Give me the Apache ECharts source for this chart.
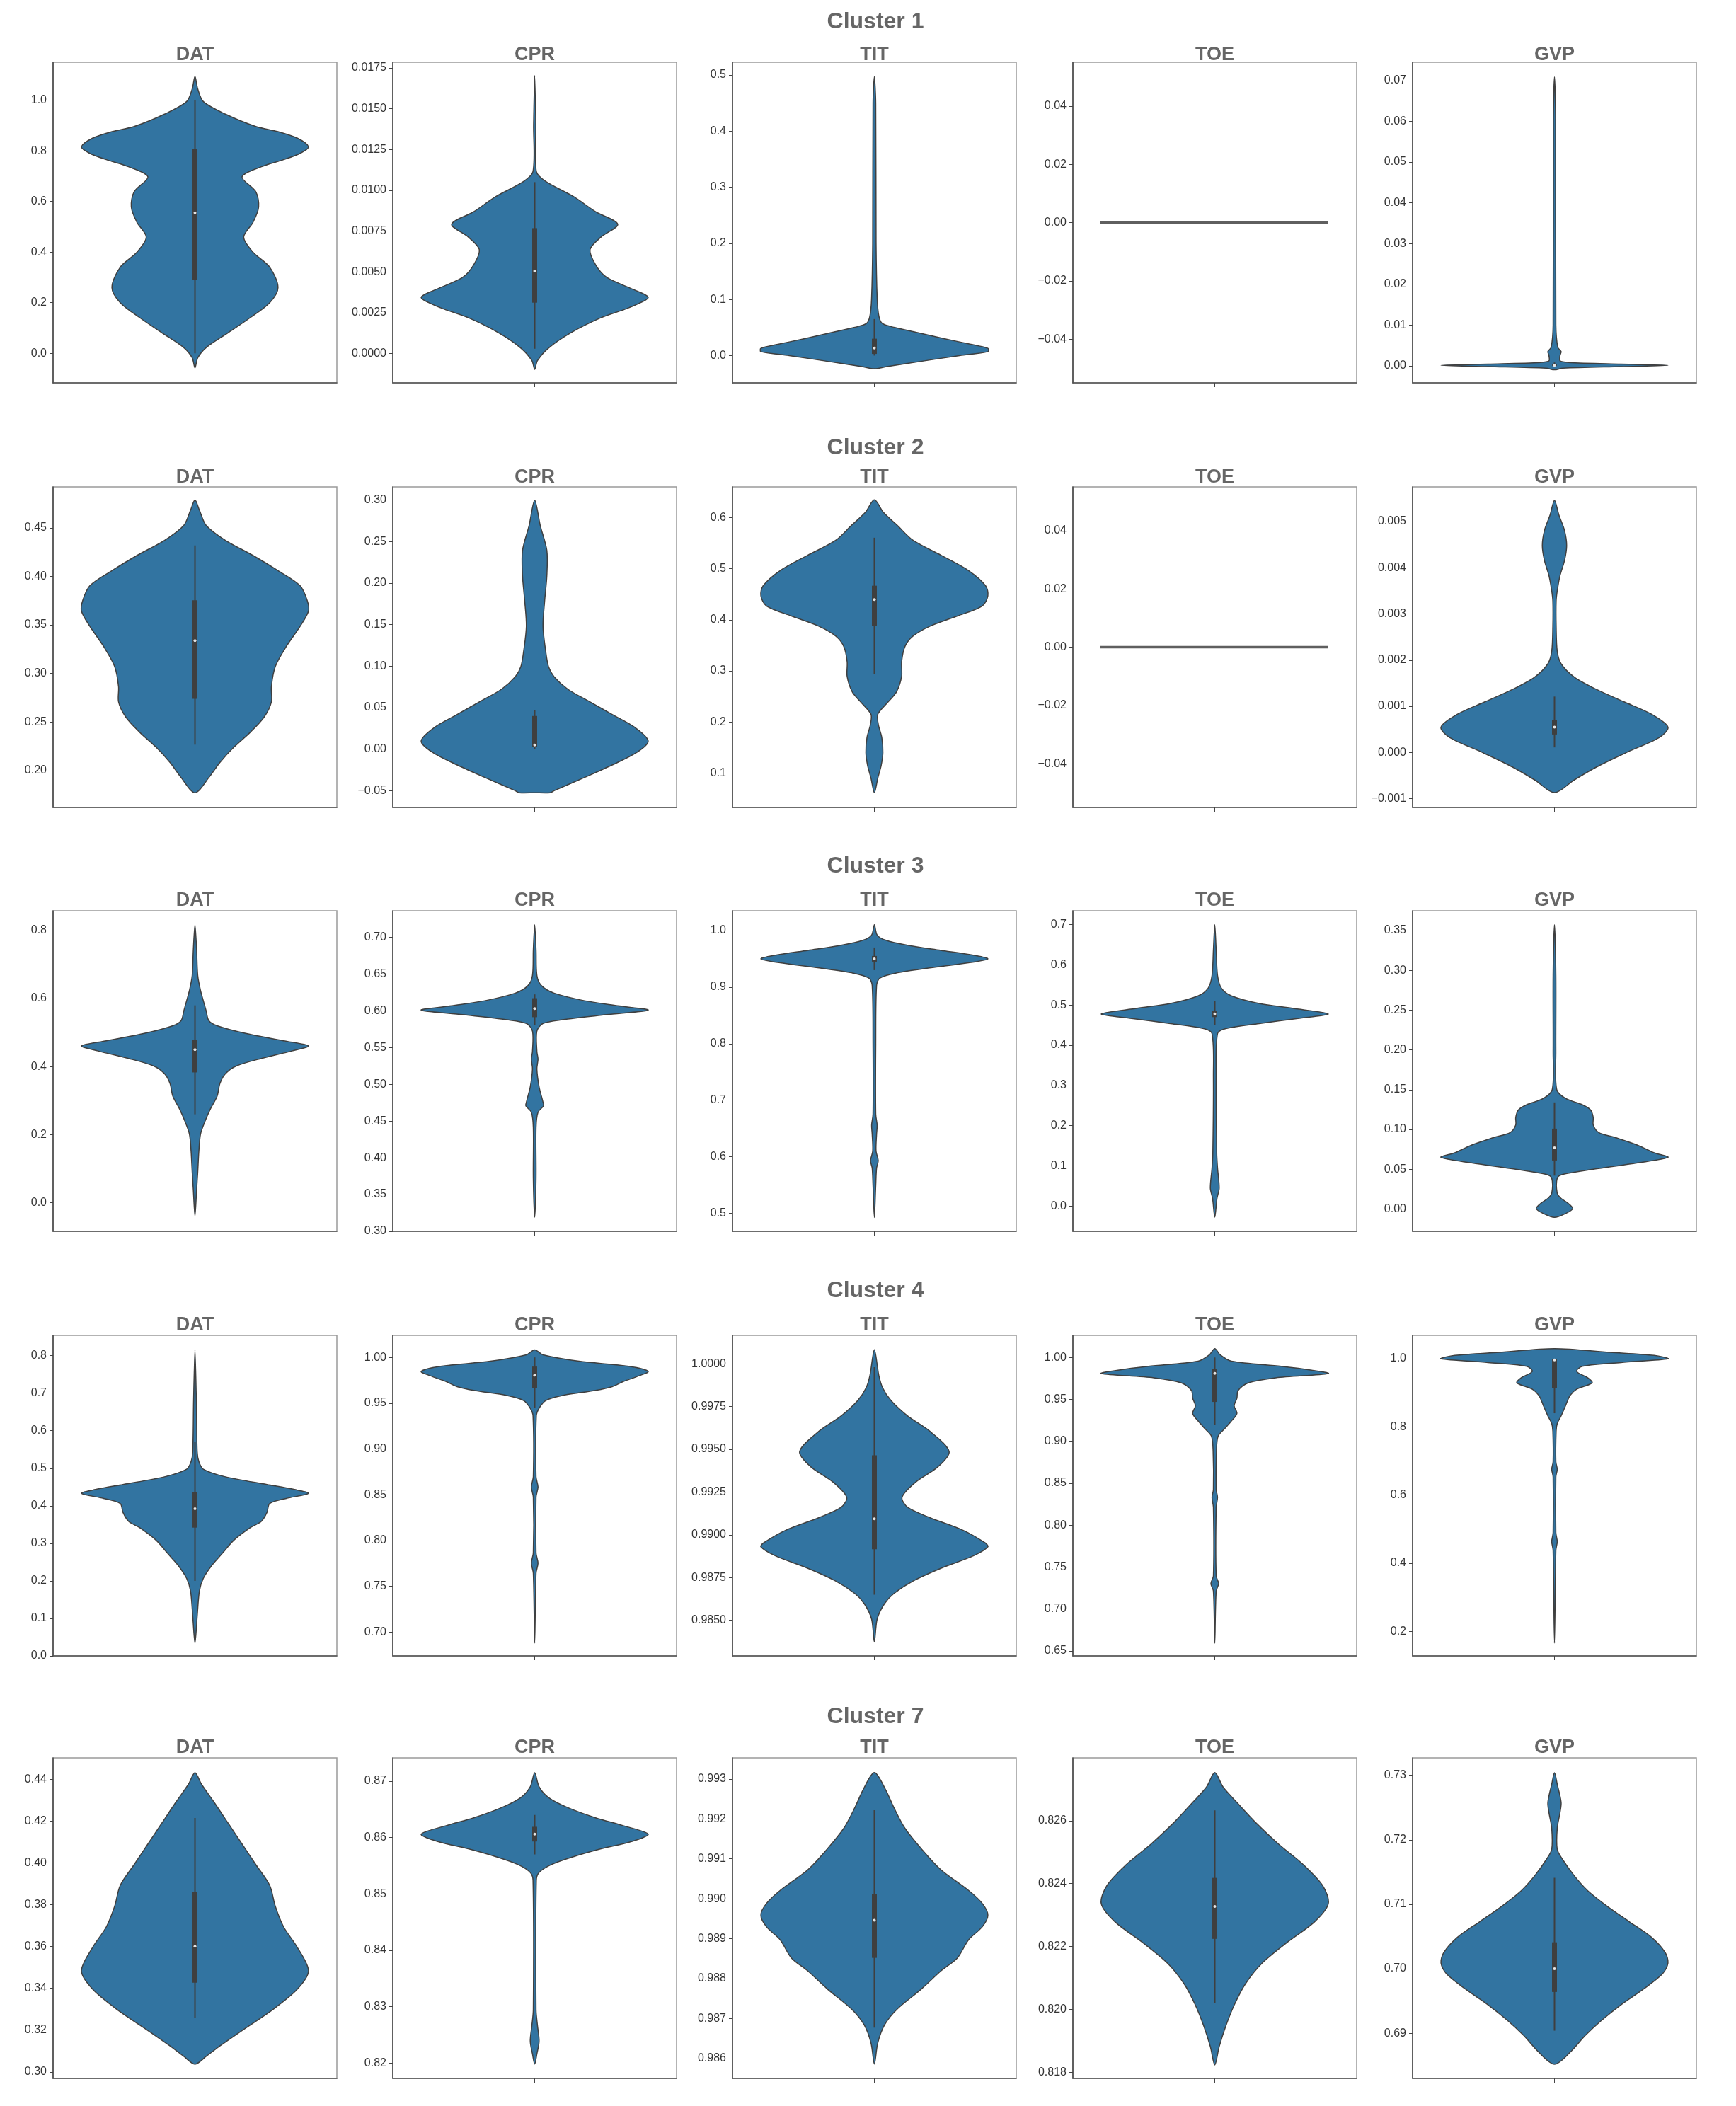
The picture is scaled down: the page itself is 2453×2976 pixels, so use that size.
<!DOCTYPE html>
<html><head><meta charset="utf-8">
<script src="https://cdn.jsdelivr.net/npm/echarts@6/dist/echarts.min.js"></script>
<style>html,body{margin:0;padding:0;background:#fff}#chart{width:2453px;height:2976px}</style>
</head><body><div id="chart"></div>
<script>
// ---------------- DATA ----------------
const clusterNames = ['Cluster 1', 'Cluster 2', 'Cluster 3', 'Cluster 4', 'Cluster 7'];
const variableNames = ['DAT', 'CPR', 'TIT', 'TOE', 'GVP'];

// Each profile: [value, density-width (relative)], box: [whiskerLow, Q1, median, Q3, whiskerHigh]
// ---- Cluster 1 ----
const c1DAT_range = [-0.117, 1.15];
const c1DAT_ticks = ['0.0', '0.2', '0.4', '0.6', '0.8', '1.0'];
const c1DAT_profile = [[-0.058,0],[-0.018,5],[0.022,20],[0.081,60],[0.141,100],[0.2,135],[0.26,150],[0.34,135],[0.399,105],[0.459,88],[0.518,105],[0.578,115],[0.638,110],[0.697,85],[0.737,120],[0.765,160],[0.79,190],[0.816,205],[0.85,185],[0.876,150],[0.896,110],[0.945,55],[0.995,15],[1.045,5],[1.094,0]];
const c1DAT_box = [0.0, 0.29, 0.555, 0.806, 1.0];

const c1CPR_range = [-0.00179, 0.01784];
const c1CPR_ticks = ['0.0000', '0.0025', '0.0050', '0.0075', '0.0100', '0.0125', '0.0150', '0.0175'];
const c1CPR_profile = [[-0.00097,0],[-0.00043,5],[0.00034,25],[0.00127,65],[0.0022,120],[0.00281,170],[0.00343,205],[0.0039,180],[0.00467,130],[0.00544,110],[0.00637,100],[0.00714,120],[0.00792,150],[0.00869,110],[0.00962,70],[0.01054,20],[0.01116,3],[0.014,2],[0.01704,0]];
const c1CPR_box = [0.0003, 0.00312, 0.00506, 0.00768, 0.0105];

const c1TIT_range = [-0.0486, 0.5225];
const c1TIT_ticks = ['0.0', '0.1', '0.2', '0.3', '0.4', '0.5'];
const c1TIT_profile = [[-0.0235,0],[-0.02,0.1],[-0.01,0.42],[0.0,0.75],[0.007,1.0],[0.013,1.0],[0.02,0.85],[0.03,0.62],[0.04,0.4],[0.05,0.18],[0.057,0.07],[0.07,0.04],[0.1,0.025],[0.2,0.015],[0.45,0.012],[0.497,0]];
const c1TIT_box = [0.0, 0.003, 0.0135, 0.03, 0.065];

const c1TOE_range = [-0.055, 0.055];
const c1TOE_ticks = ['-0.04', '-0.02', '0.00', '0.02', '0.04'];
const c1TOE_profile = [[0.0, 1]];
const c1TOE_box = null;

const c1GVP_range = [-0.0042, 0.0745];
const c1GVP_ticks = ['0.00', '0.01', '0.02', '0.03', '0.04', '0.05', '0.06', '0.07'];
const c1GVP_profile = [[-0.001,0],[-0.0006,15],[-0.0002,120],[0.0001,205],[0.0004,120],[0.0008,25],[0.0012,10],[0.0025,10],[0.0035,12],[0.0045,6],[0.01,2.5],[0.06,2],[0.0709,0]];
const c1GVP_box = [0.0, 0.0, 0.0001, 0.0003, 0.0008];

// ---- Cluster 2 ----
const c2DAT_range = [0.162, 0.4921];
const c2DAT_ticks = ['0.20', '0.25', '0.30', '0.35', '0.40', '0.45'];
const c2DAT_profile = [[0.1771,0],[0.1927,25],[0.2083,45],[0.2239,70],[0.2395,100],[0.2551,125],[0.2707,138],[0.2863,138],[0.307,145],[0.3278,165],[0.3486,190],[0.3642,205],[0.3746,203],[0.3902,190],[0.4058,150],[0.4214,105],[0.437,55],[0.4526,20],[0.4682,8],[0.4786,0]];
const c2DAT_box = [0.2266, 0.2738, 0.3338, 0.3754, 0.4318];

const c2CPR_range = [-0.0701, 0.3159];
const c2CPR_ticks = ['-0.05', '0.00', '0.05', '0.10', '0.15', '0.20', '0.25', '0.30'];
const c2CPR_profile = [[-0.0524,0],[-0.0524,28],[-0.05,35],[-0.034,90],[-0.019,140],[-0.0036,185],[0.01,205],[0.0267,180],[0.0418,140],[0.057,100],[0.0722,60],[0.0874,35],[0.0995,25],[0.1177,20],[0.148,15],[0.1785,18],[0.209,22],[0.2393,22],[0.2696,10],[0.30,0]];
const c2CPR_box = [0.0, 0.003, 0.005, 0.04, 0.047];

const c2TIT_range = [0.0328, 0.660];
const c2TIT_ticks = ['0.1', '0.2', '0.3', '0.4', '0.5', '0.6'];
const c2TIT_profile = [[0.0615,0],[0.09,0.03],[0.115,0.06],[0.14,0.075],[0.17,0.065],[0.195,0.035],[0.215,0.03],[0.239,0.12],[0.259,0.195],[0.289,0.24],[0.318,0.24],[0.348,0.27],[0.368,0.34],[0.3875,0.49],[0.4073,0.73],[0.427,0.95],[0.447,1.0],[0.4666,0.98],[0.4962,0.83],[0.5259,0.59],[0.5555,0.34],[0.585,0.2],[0.61,0.08],[0.6346,0]];
const c2TIT_box = [0.2937, 0.3875, 0.4394, 0.4666, 0.5605];

const c2TOE_range = [-0.055, 0.055];
const c2TOE_ticks = ['-0.04', '-0.02', '0.00', '0.02', '0.04'];
const c2TOE_profile = [[0.0, 1]];
const c2TOE_box = null;

const c2GVP_range = [-0.00119, 0.00575];
const c2GVP_ticks = ['-0.001', '0.000', '0.001', '0.002', '0.003', '0.004', '0.005'];
const c2GVP_profile = [[-0.00087,0],[-0.0006,35],[-0.00032,75],[0.0,130],[0.00033,190],[0.00055,205],[0.00083,175],[0.0011,125],[0.00137,75],[0.00164,35],[0.00192,12],[0.00219,5],[0.00273,3],[0.00328,3],[0.0035,5],[0.00383,10],[0.00415,18],[0.00448,22],[0.00481,18],[0.00514,8],[0.00546,0]];
const c2GVP_box = [0.00011, 0.00039, 0.00055, 0.00071, 0.00121];

// ---- Cluster 3 ----
const c3DAT_range = [-0.0838, 0.8578];
const c3DAT_ticks = ['0.0', '0.2', '0.4', '0.6', '0.8'];
const c3DAT_profile = [[-0.039,0],[0.0385,3],[0.09,5],[0.15,7],[0.2015,10],[0.239,18],[0.276,28],[0.313,40],[0.35,45],[0.379,55],[0.402,75],[0.424,120],[0.446,175],[0.461,205],[0.476,160],[0.498,90],[0.52,40],[0.535,25],[0.565,20],[0.594,15],[0.624,10],[0.668,5],[0.7425,3],[0.8166,0]];
const c3DAT_box = [0.26, 0.383, 0.45, 0.479, 0.58];

const c3CPR_range = [0.30, 0.7362];
const c3CPR_ticks = ['0.30', '0.35', '0.40', '0.45', '0.50', '0.55', '0.60', '0.65', '0.70'];
const c3CPR_profile = [[0.319,0],[0.3724,2.5],[0.4414,2.5],[0.4621,6],[0.4707,16],[0.4759,15],[0.4966,8],[0.5207,4],[0.5345,6],[0.5448,4],[0.5724,4],[0.5828,15],[0.5879,50],[0.5948,130],[0.601,205],[0.6069,150],[0.6138,90],[0.6241,35],[0.6345,12],[0.6483,4],[0.6828,2.5],[0.7172,0]];
const c3CPR_box = [0.581, 0.5914, 0.603, 0.6172, 0.6224];

const c3TIT_range = [0.468, 1.035];
const c3TIT_ticks = ['0.5', '0.6', '0.7', '0.8', '0.9', '1.0'];
const c3TIT_profile = [[0.4924,0],[0.55,2.5],[0.58,4],[0.593,7],[0.61,3],[0.64,4],[0.656,5],[0.675,2.5],[0.8,2.5],[0.903,4],[0.916,10],[0.925,40],[0.934,100],[0.943,170],[0.95,205],[0.957,175],[0.965,120],[0.974,60],[0.983,20],[0.992,5],[1.0103,0]];
const c3TIT_box = [0.93, 0.945, 0.95, 0.955, 0.97];

const c3TOE_range = [-0.063, 0.7347];
const c3TOE_ticks = ['0.0', '0.1', '0.2', '0.3', '0.4', '0.5', '0.6', '0.7'];
const c3TOE_profile = [[-0.028,0],[0.019,4],[0.0443,8],[0.0947,5],[0.1325,3.5],[0.3217,2.5],[0.429,5],[0.4415,20],[0.454,80],[0.4667,150],[0.478,205],[0.492,140],[0.504,80],[0.523,30],[0.542,12],[0.574,5],[0.637,2.5],[0.70,0]];
const c3TOE_box = [0.45, 0.47, 0.478, 0.485, 0.51];

const c3GVP_range = [-0.028, 0.3748];
const c3GVP_ticks = ['0.00', '0.05', '0.10', '0.15', '0.20', '0.25', '0.30', '0.35'];
const c3GVP_profile = [[-0.0105,0],[-0.0057,20],[0.0006,33],[0.007,25],[0.0134,12],[0.0197,5],[0.0389,5],[0.0436,15],[0.05,70],[0.058,150],[0.065,205],[0.0707,180],[0.0803,150],[0.0898,110],[0.0962,80],[0.1057,70],[0.1153,70],[0.1248,65],[0.1312,50],[0.139,20],[0.1503,4],[0.198,2.5],[0.2936,2.5],[0.3573,0]];
const c3GVP_box = [0.042, 0.061, 0.077, 0.101, 0.134];

// ---- Cluster 4 ----
const c4DAT_range = [0.0, 0.854];
const c4DAT_ticks = ['0.0', '0.1', '0.2', '0.3', '0.4', '0.5', '0.6', '0.7', '0.8'];
const c4DAT_profile = [[0.0338,0],[0.1049,4],[0.1726,8],[0.2064,15],[0.2403,30],[0.2741,50],[0.308,70],[0.3418,100],[0.3587,120],[0.3824,130],[0.4061,135],[0.4196,165],[0.4332,205],[0.4433,180],[0.4569,130],[0.4772,55],[0.4975,15],[0.5178,7],[0.5448,4],[0.68,2.5],[0.8156,0]];
const c4DAT_box = [0.20, 0.3418, 0.392, 0.4365, 0.57];

const c4CPR_range = [0.674, 1.0241];
const c4CPR_ticks = ['0.70', '0.75', '0.80', '0.85', '0.90', '0.95', '1.00'];
const c4CPR_profile = [[0.688,0],[0.7643,2.5],[0.7754,6],[0.7865,2.5],[0.8475,2.5],[0.8586,6],[0.8697,2.5],[0.9362,3],[0.9445,8],[0.9529,20],[0.9584,50],[0.964,110],[0.9681,140],[0.9737,160],[0.9792,185],[0.9847,205],[0.9903,170],[0.9958,80],[1.0028,15],[1.0083,0]];
const c4CPR_box = [0.945, 0.9667, 0.9806, 0.990, 1.0];

const c4TIT_range = [0.98292, 1.00166];
const c4TIT_ticks = ['0.9850', '0.9875', '0.9900', '0.9925', '0.9950', '0.9975', '1.0000'];
const c4TIT_profile = [[0.98373,0],[0.98507,5],[0.98596,18],[0.98656,35],[0.9873,70],[0.98804,120],[0.98879,180],[0.9893,205],[0.98953,200],[0.99027,160],[0.99101,100],[0.99161,60],[0.9922,50],[0.99309,75],[0.99398,115],[0.99487,135],[0.99606,100],[0.99695,60],[0.99785,30],[0.99859,15],[0.99933,8],[1.00082,0]];
const c4TIT_box = [0.9865, 0.98916, 0.99094, 0.99465, 0.9998];

const c4TOE_range = [0.644, 1.0264];
const c4TOE_ticks = ['0.65', '0.70', '0.75', '0.80', '0.85', '0.90', '0.95', '1.00'];
const c4TOE_profile = [[0.6591,0],[0.7212,2.5],[0.7303,7],[0.7394,2.5],[0.8212,2.5],[0.8333,5],[0.8424,2.5],[0.8879,3],[0.9061,6],[0.9152,18],[0.9242,30],[0.9333,40],[0.9424,35],[0.9515,40],[0.9606,42],[0.9697,60],[0.9758,110],[0.9809,205],[0.9848,175],[0.9894,120],[0.9955,30],[1.003,10],[1.0106,0]];
const c4TOE_box = [0.92, 0.947, 0.981, 0.9864, 1.0];

const c4GVP_range = [0.1276, 1.0686];
const c4GVP_ticks = ['0.2', '0.4', '0.6', '0.8', '1.0'];
const c4GVP_profile = [[0.165,0],[0.4371,2.5],[0.4632,5],[0.4893,2.5],[0.6533,2.5],[0.6757,5],[0.698,2.5],[0.7875,3],[0.8099,5],[0.8322,12],[0.8621,20],[0.8919,28],[0.9105,40],[0.9292,68],[0.9441,60],[0.9627,40],[0.9776,50],[0.9888,120],[1.0,205],[1.0097,180],[1.0186,100],[1.0298,0]];
const c4GVP_box = [0.84, 0.914, 0.9963, 1.0, 1.0];

// ---- Cluster 7 ----
const c7DAT_range = [0.2969, 0.4502];
const c7DAT_ticks = ['0.30', '0.32', '0.34', '0.36', '0.38', '0.40', '0.42', '0.44'];
const c7DAT_profile = [[0.3037,0],[0.3074,20],[0.3124,45],[0.3198,85],[0.3297,140],[0.3396,185],[0.3483,205],[0.3595,185],[0.3694,160],[0.3793,145],[0.3892,135],[0.3991,110],[0.409,85],[0.4189,60],[0.4288,35],[0.4375,12],[0.4431,0]];
const c7DAT_box = [0.3257, 0.3427, 0.3601, 0.3861, 0.4214];

const c7CPR_range = [0.81726, 0.87414];
const c7CPR_ticks = ['0.82', '0.83', '0.84', '0.85', '0.86', '0.87'];
const c7CPR_profile = [[0.8198,0],[0.8216,4],[0.8239,8],[0.8267,5],[0.8294,2.5],[0.8524,3],[0.8538,8],[0.8552,30],[0.8566,70],[0.858,120],[0.8593,175],[0.8606,205],[0.8621,160],[0.8635,110],[0.8653,60],[0.8671,25],[0.869,8],[0.8715,0]];
const c7CPR_box = [0.857, 0.8593, 0.8606, 0.8619, 0.864];

const c7TIT_range = [0.9855, 0.99353];
const c7TIT_ticks = ['0.986', '0.987', '0.988', '0.989', '0.990', '0.991', '0.992', '0.993'];
const c7TIT_profile = [[0.98586,0],[0.98638,6],[0.98683,18],[0.98722,40],[0.98774,85],[0.98819,120],[0.98852,150],[0.98897,170],[0.9893,195],[0.98959,205],[0.98988,195],[0.99021,170],[0.99073,120],[0.99125,85],[0.99177,55],[0.99229,35],[0.99274,20],[0.99316,0]];
const c7TIT_box = [0.98677, 0.98852, 0.98946, 0.99011, 0.99222];

const c7TOE_range = [0.8178, 0.828];
const c7TOE_ticks = ['0.818', '0.820', '0.822', '0.824', '0.826'];
const c7TOE_profile = [[0.81823,0],[0.81881,8],[0.81947,20],[0.82013,35],[0.8208,55],[0.82146,85],[0.82212,130],[0.82278,180],[0.82336,205],[0.82393,195],[0.8246,160],[0.82526,115],[0.82592,75],[0.82658,40],[0.82707,15],[0.82753,0]];
const c7TOE_box = [0.82021, 0.82224, 0.82327, 0.82418, 0.82633];

const c7GVP_range = [0.683, 0.7327];
const c7GVP_ticks = ['0.69', '0.70', '0.71', '0.72', '0.73'];
const c7GVP_profile = [[0.6852,0],[0.6872,30],[0.6896,55],[0.692,85],[0.6944,120],[0.6968,160],[0.6992,195],[0.7009,205],[0.7025,200],[0.7049,175],[0.7073,135],[0.7097,95],[0.7121,60],[0.7145,35],[0.7169,15],[0.7185,5],[0.7218,5],[0.7242,10],[0.7258,12],[0.7286,5],[0.7304,0]];
const c7GVP_box = [0.6904, 0.6964, 0.7, 0.7041, 0.7141];

// ---------------- ASSEMBLY ----------------
const P = (range, ticks, profile, box) => ({ range, ticks, profile, box });
const panels = [
  [P(c1DAT_range,c1DAT_ticks,c1DAT_profile,c1DAT_box), P(c1CPR_range,c1CPR_ticks,c1CPR_profile,c1CPR_box), P(c1TIT_range,c1TIT_ticks,c1TIT_profile,c1TIT_box), P(c1TOE_range,c1TOE_ticks,c1TOE_profile,c1TOE_box), P(c1GVP_range,c1GVP_ticks,c1GVP_profile,c1GVP_box)],
  [P(c2DAT_range,c2DAT_ticks,c2DAT_profile,c2DAT_box), P(c2CPR_range,c2CPR_ticks,c2CPR_profile,c2CPR_box), P(c2TIT_range,c2TIT_ticks,c2TIT_profile,c2TIT_box), P(c2TOE_range,c2TOE_ticks,c2TOE_profile,c2TOE_box), P(c2GVP_range,c2GVP_ticks,c2GVP_profile,c2GVP_box)],
  [P(c3DAT_range,c3DAT_ticks,c3DAT_profile,c3DAT_box), P(c3CPR_range,c3CPR_ticks,c3CPR_profile,c3CPR_box), P(c3TIT_range,c3TIT_ticks,c3TIT_profile,c3TIT_box), P(c3TOE_range,c3TOE_ticks,c3TOE_profile,c3TOE_box), P(c3GVP_range,c3GVP_ticks,c3GVP_profile,c3GVP_box)],
  [P(c4DAT_range,c4DAT_ticks,c4DAT_profile,c4DAT_box), P(c4CPR_range,c4CPR_ticks,c4CPR_profile,c4CPR_box), P(c4TIT_range,c4TIT_ticks,c4TIT_profile,c4TIT_box), P(c4TOE_range,c4TOE_ticks,c4TOE_profile,c4TOE_box), P(c4GVP_range,c4GVP_ticks,c4GVP_profile,c4GVP_box)],
  [P(c7DAT_range,c7DAT_ticks,c7DAT_profile,c7DAT_box), P(c7CPR_range,c7CPR_ticks,c7CPR_profile,c7CPR_box), P(c7TIT_range,c7TIT_ticks,c7TIT_profile,c7TIT_box), P(c7TOE_range,c7TOE_ticks,c7TOE_profile,c7TOE_box), P(c7GVP_range,c7GVP_ticks,c7GVP_profile,c7GVP_box)]
];

// layout (pixels)
const colLeft = [75, 555, 1035, 1516, 1996];
const rowTop = [88, 688, 1287, 1887, 2484];
const panelW = 401, panelH = 453;
const clusterTitleY = [31, 633, 1224, 1824, 2426];
const subTitleY = [78, 675, 1273, 1873, 2470];

const VIOLIN_FILL = '#3274a1';
const EDGE = '#3f3f3f';
const TICK_FONT = '"Liberation Sans", Arial, sans-serif';

function makeRenderer(p) {
  return function (params, api) {
    const children = [];
    if (p.profile.length === 1) {
      const a = api.coord([-0.405, p.profile[0][0]]);
      const b = api.coord([0.4, p.profile[0][0]]);
      children.push({ type: 'line', shape: { x1: a[0], y1: a[1], x2: b[0], y2: b[1] },
        style: { stroke: '#5f5f5f', lineWidth: 3.5 } });
      return { type: 'group', children };
    }
    const maxW = Math.max.apply(null, p.profile.map(d => d[1]));
    const right = p.profile.map(d => api.coord([0.4 * d[1] / maxW, d[0]]));
    let leftSrc = p.profile.slice().reverse();
    if (leftSrc[0][1] === 0) leftSrc = leftSrc.slice(1);
    if (leftSrc.length && leftSrc[leftSrc.length - 1][1] === 0) leftSrc = leftSrc.slice(0, -1);
    const left = leftSrc.map(d => api.coord([-0.4 * d[1] / maxW, d[0]]));
    children.push({ type: 'polygon', shape: { points: right.concat(left), smooth: 0.3 },
      style: { fill: VIOLIN_FILL, stroke: EDGE, lineWidth: 1.5 } });
    if (p.box) {
      const b = p.box.map(v => api.coord([0, v]));
      children.push({ type: 'line', shape: { x1: b[0][0], y1: b[0][1], x2: b[4][0], y2: b[4][1] },
        style: { stroke: EDGE, lineWidth: 2 } });
      children.push({ type: 'rect', shape: { x: b[1][0] - 3.5, y: b[3][1], width: 7, height: Math.max(1, b[1][1] - b[3][1]) },
        style: { fill: EDGE } });
      children.push({ type: 'circle', shape: { cx: b[2][0], cy: b[2][1], r: 2 },
        style: { fill: '#e6e6e6' } });
    }
    return { type: 'group', children };
  };
}

const grids = [], xAxes = [], yAxes = [], series = [], graphics = [];
panels.forEach((row, r) => {
  row.forEach((p, c) => {
    const i = grids.length;
    grids.push({ left: colLeft[c], top: rowTop[r], width: panelW, height: panelH,
      show: true, borderColor: '#9a9a9a', borderWidth: 1.5, backgroundColor: '#fff' });
    xAxes.push({ gridIndex: i, type: 'value', min: -0.5, max: 0.5,
      axisLine: { show: true, onZero: false, lineStyle: { color: '#555', width: 1.5 } },
      axisTick: { show: true, customValues: [0], length: 6, lineStyle: { color: '#444' } },
      axisLabel: { show: false }, splitLine: { show: false } });
    const tickVals = p.ticks.map(Number);
    yAxes.push({ gridIndex: i, type: 'value', min: p.range[0], max: p.range[1],
      splitLine: { show: false },
      axisLine: { show: true, onZero: false, lineStyle: { color: '#444', width: 1.5 } },
      axisTick: { show: true, customValues: tickVals, length: 5, lineStyle: { color: '#444' } },
      axisLabel: { show: true, customValues: tickVals, margin: 9, fontSize: 16, color: '#333',
        fontFamily: TICK_FONT,
        formatter: (v) => {
          const t = p.ticks.find(s => Math.abs(Number(s) - v) < 1e-9);
          return (t !== undefined ? t : String(v)).replace('-', '\u2212');
        } } });
    series.push({ type: 'custom', xAxisIndex: i, yAxisIndex: i, clip: false,
      data: [[0, p.profile[0][0]]], renderItem: makeRenderer(p), silent: true });
    graphics.push({ type: 'text', x: colLeft[c] + panelW / 2, y: subTitleY[r],
      style: { text: variableNames[c], fontSize: 27, fontWeight: 'bold', fontFamily: '"Liberation Sans", Arial, sans-serif',
        fill: '#666', align: 'center', verticalAlign: 'middle', textAlign: 'center', textVerticalAlign: 'middle' } });
  });
  graphics.push({ type: 'text', x: 1237, y: clusterTitleY[r],
    style: { text: clusterNames[r], fontSize: 32, fontWeight: 'bold', fontFamily: '"Liberation Sans", Arial, sans-serif',
      fill: '#666', align: 'center', verticalAlign: 'middle', textAlign: 'center', textVerticalAlign: 'middle' } });
});

const chart = echarts.init(document.getElementById('chart'), null, { renderer: 'canvas' });
chart.setOption({
  animation: false,
  backgroundColor: '#ffffff',
  grid: grids, xAxis: xAxes, yAxis: yAxes, series: series, graphic: graphics
});
</script></body></html>
